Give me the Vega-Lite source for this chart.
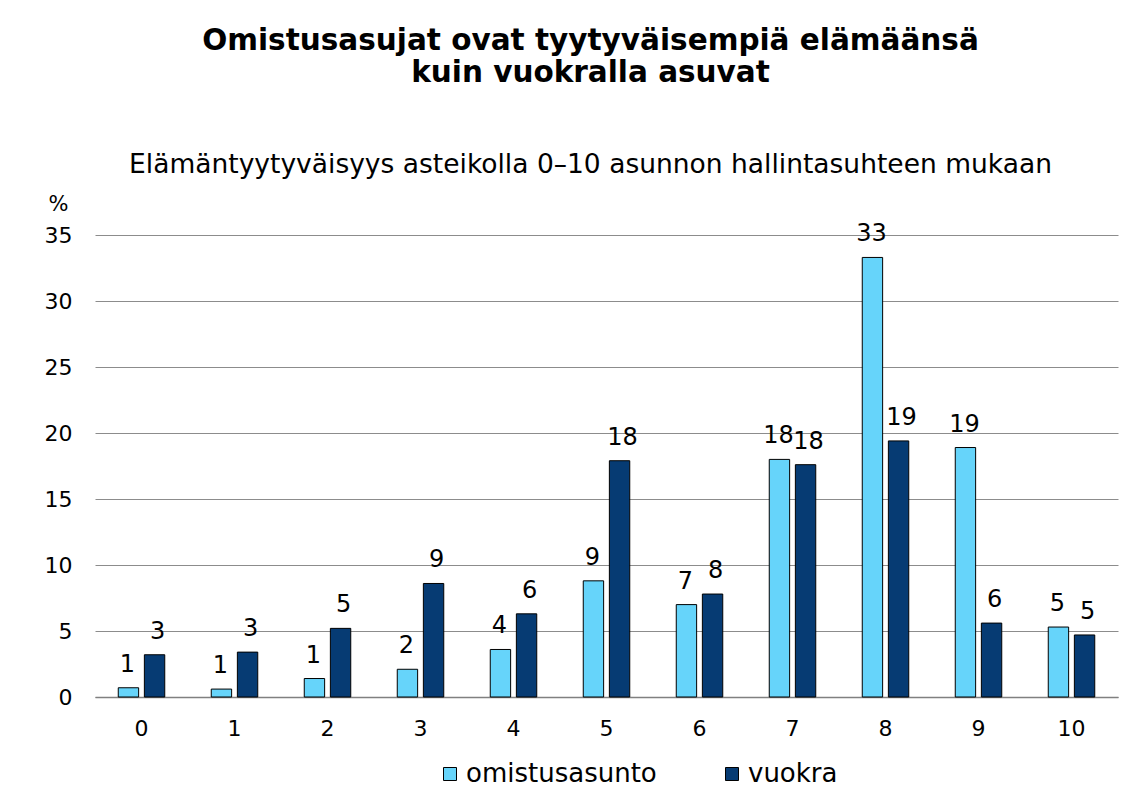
{
  "$schema": "https://vega.github.io/schema/vega-lite/v6.json",
  "autosize": {"type": "none"},
  "padding": {"left": 95, "top": 235, "right": 18, "bottom": 100},
  "width": 1023,
  "height": 462,
  "config": {
    "view": {"stroke": null},
    "font": "DejaVu Sans",
    "background": "white"
  },
  "title": {
    "text": ["Omistusasujat ovat tyytyväisempiä elämäänsä", "kuin vuokralla asuvat"],
    "subtitle": "Elämäntyytyväisyys asteikolla 0–10 asunnon hallintasuhteen mukaan",
    "anchor": "middle",
    "frame": "group",
    "dx": -16,
    "font": "DejaVu Sans",
    "fontSize": 29.5,
    "fontWeight": "bold",
    "lineHeight": 32,
    "color": "black",
    "subtitleFont": "DejaVu Sans",
    "subtitleFontSize": 26.5,
    "subtitleColor": "black",
    "subtitlePadding": 63,
    "offset": 14
  },
  "data": {
    "values": [
      {"luku": 0, "asunto": "omistusasunto", "osuus": 0.7},
      {"luku": 0, "asunto": "vuokra", "osuus": 3.2},
      {"luku": 1, "asunto": "omistusasunto", "osuus": 0.6},
      {"luku": 1, "asunto": "vuokra", "osuus": 3.4},
      {"luku": 2, "asunto": "omistusasunto", "osuus": 1.4},
      {"luku": 2, "asunto": "vuokra", "osuus": 5.2},
      {"luku": 3, "asunto": "omistusasunto", "osuus": 2.1},
      {"luku": 3, "asunto": "vuokra", "osuus": 8.6},
      {"luku": 4, "asunto": "omistusasunto", "osuus": 3.6},
      {"luku": 4, "asunto": "vuokra", "osuus": 6.3},
      {"luku": 5, "asunto": "omistusasunto", "osuus": 8.8},
      {"luku": 5, "asunto": "vuokra", "osuus": 17.9},
      {"luku": 6, "asunto": "omistusasunto", "osuus": 7.0},
      {"luku": 6, "asunto": "vuokra", "osuus": 7.8},
      {"luku": 7, "asunto": "omistusasunto", "osuus": 18.0},
      {"luku": 7, "asunto": "vuokra", "osuus": 17.6},
      {"luku": 8, "asunto": "omistusasunto", "osuus": 33.3},
      {"luku": 8, "asunto": "vuokra", "osuus": 19.4},
      {"luku": 9, "asunto": "omistusasunto", "osuus": 18.9},
      {"luku": 9, "asunto": "vuokra", "osuus": 5.6},
      {"luku": 10, "asunto": "omistusasunto", "osuus": 5.3},
      {"luku": 10, "asunto": "vuokra", "osuus": 4.7}
    ]
  },
  "encoding": {
    "x": {
      "field": "luku",
      "type": "ordinal",
      "scale": {"paddingInner": 0.5, "paddingOuter": 0.25},
      "axis": {
        "title": null,
        "labelAngle": 0,
        "labelFontSize": 22,
        "labelColor": "black",
        "labelPadding": 21,
        "ticks": false,
        "domainColor": "#808080",
        "domainWidth": 1.5
      }
    },
    "xOffset": {
      "field": "asunto",
      "type": "nominal",
      "sort": ["omistusasunto", "vuokra"],
      "scale": {"paddingInner": 0.22, "paddingOuter": 0}
    },
    "y": {
      "field": "osuus",
      "type": "quantitative",
      "scale": {"domain": [0, 35], "nice": false},
      "axis": {
        "title": "%",
        "titleAngle": 0,
        "titleX": -37,
        "titleY": -31,
        "titleAlign": "center",
        "titleBaseline": "middle",
        "titleFontSize": 21,
        "titleFontWeight": "normal",
        "titleColor": "black",
        "values": [0, 5, 10, 15, 20, 25, 30, 35],
        "labelFontSize": 22,
        "labelColor": "black",
        "labelPadding": 23,
        "ticks": false,
        "domain": false,
        "gridColor": "#8c8c8c",
        "gridWidth": 1
      }
    }
  },
  "layer": [
    {
      "mark": {"type": "bar", "stroke": "black", "strokeWidth": 1},
      "encoding": {
        "color": {
          "field": "asunto",
          "type": "nominal",
          "scale": {"domain": ["omistusasunto", "vuokra"], "range": ["#66D4FA", "#063B73"]},
          "legend": {
            "title": null,
            "orient": "none",
            "direction": "horizontal",
            "legendX": 342,
            "legendY": 526,
            "symbolType": "square",
            "symbolSize": 169,
            "symbolStrokeColor": "black",
            "symbolStrokeWidth": 1,
            "labelFontSize": 26,
            "labelLimit": 400,
            "labelColor": "black",
            "labelOffset": 3,
            "columnPadding": 62
          }
        }
      }
    },
    {
      "transform": [{"filter": "datum.asunto === 'omistusasunto'"}],
      "mark": {"type": "text", "baseline": "bottom", "dy": -11, "dx": -1, "fontSize": 24, "color": "black"},
      "encoding": {
        "text": {"field": "osuus", "type": "quantitative", "format": ".0f"}
      }
    },
    {
      "transform": [{"filter": "datum.asunto === 'vuokra'"}],
      "mark": {"type": "text", "baseline": "bottom", "dy": -11, "dx": 3, "fontSize": 24, "color": "black"},
      "encoding": {
        "text": {"field": "osuus", "type": "quantitative", "format": ".0f"}
      }
    }
  ]
}
